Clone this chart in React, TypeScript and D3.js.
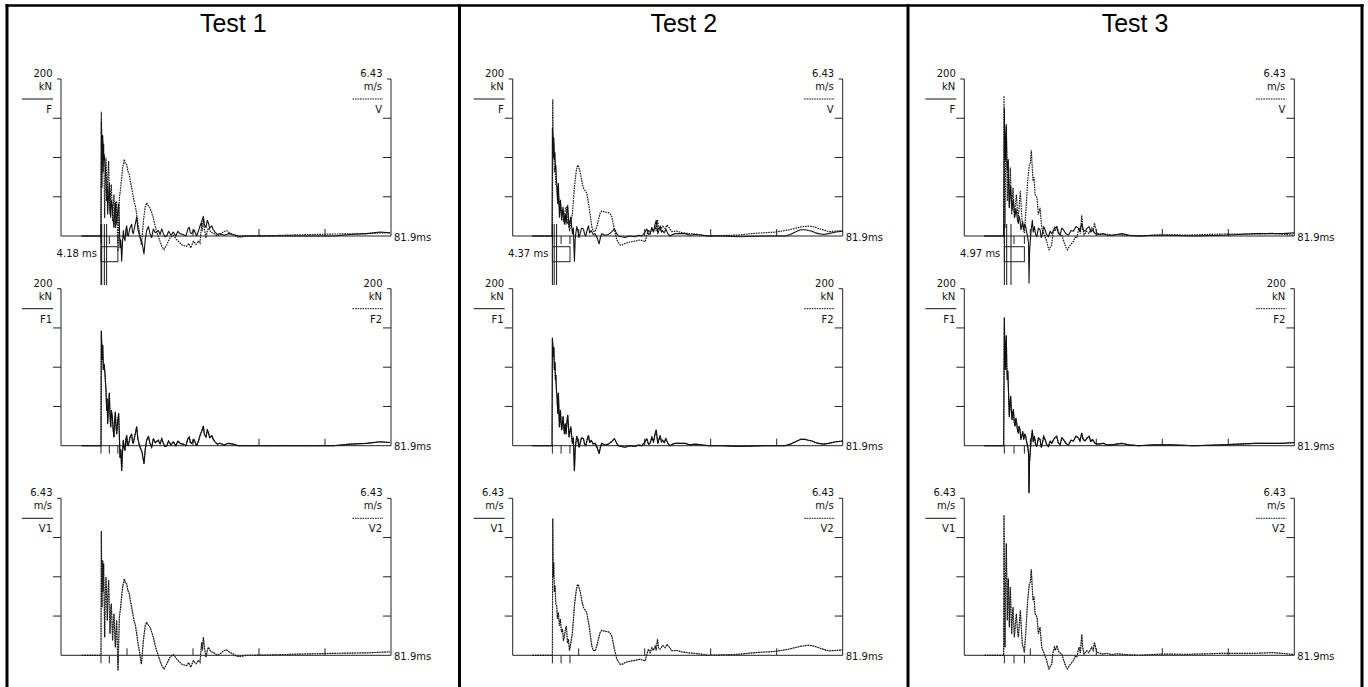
import React from 'react';
import * as d3 from 'd3';

// ---------- labels & scales ----------
const testNames = ['Test 1', 'Test 2', 'Test 3'];
const timeEndMs = 81.9;
const timeTickMs = [16.38, 32.76, 49.14, 65.52];
const forceFullKN = 200;
const velFullMS = 6.43;
const riseTimeMs = [4.18, 4.37, 4.97];
const impactMs = [9.93, 9.85, 9.94];
const midMarkMs = [11.99, 12.01, 12.34];
const cursorMs = [[10.1, 10.76, 11.33], [10.3, 10.9], [10.52, 11.59]];

// ---------- data (time ms, value) ----------
const test1Force: [number, number][] = [
  [5.13, 0], [9.93, 0], [10.01, 146], [10.2, 110], [10.35, 128], [10.51, 97], [10.7, 104], [10.92, 92],
  [11.05, 80], [11.17, 71], [11.33, 45], [11.45, 60], [11.58, 28], [11.8, 50], [12.0, 67], [12.15, 40],
  [12.33, 24], [12.5, 45], [12.74, 37], [12.95, 20], [13.15, 11], [13.3, 30], [13.49, 43], [13.65, 25],
  [13.82, 15], [14.05, 30], [14.31, 41], [14.5, 10], [14.64, -15], [14.85, -5], [15.06, -32], [15.25, -10],
  [15.47, 7], [15.65, -2], [15.88, -6], [16.1, 8], [16.3, 13], [16.5, 2], [16.71, 0], [17.1, 10],
  [17.54, 15], [17.75, 5], [17.95, 3], [18.3, 12], [18.78, 24], [19.1, 8], [19.61, -2], [20.1, -8],
  [20.6, -23], [20.9, -5], [21.26, 7], [21.7, 12], [22.09, 3], [22.5, -2], [22.92, 9], [23.4, 4],
  [24.16, 7], [24.6, 2], [25.0, 9], [25.4, 3], [25.8, -1], [26.23, 0], [26.7, 6], [27.3, 1], [27.88, 5],
  [28.5, 0], [29.0, 6], [29.54, 3], [30.3, 2], [31.0, 0], [31.5, 9], [31.85, 11], [32.1, 4], [32.43, 3],
  [33.0, 8], [33.67, 0], [34.1, 6], [34.5, 13], [34.9, 18], [35.33, 25], [35.6, 14], [35.99, 11],
  [36.3, 20], [36.57, 17], [36.9, 10], [37.4, 13], [37.8, 8], [38.22, 5], [38.8, 2], [39.46, 3],
  [40.5, 1], [41.5, 3], [42.77, 2], [44.0, 0], [46.91, 0], [51.05, 0], [59.32, 0], [67.59, 0],
  [71.73, 2], [75.87, 3], [79.18, 5], [81.66, 4],
];
const test1Velocity: [number, number][] = [
  [5.13, 0], [9.93, 0], [10.01, 5.09], [10.18, 1.97], [10.34, 3.89], [10.45, 2.6], [10.59, 3.76],
  [10.84, 0.74], [11.0, 2.4], [11.17, 3.21], [11.5, 1.43], [11.65, 2.5], [11.83, 3.07], [12.16, 0.88],
  [12.3, 1.8], [12.49, 2.11], [12.82, 0.6], [13.0, 1.3], [13.15, 1.7], [13.49, 0.33], [13.65, 1.0],
  [13.82, 1.43], [14.15, -0.63], [14.48, 1.56], [14.81, 1.97], [15.05, 2.4], [15.31, 2.8], [15.72, 3.14],
  [16.0, 2.95], [16.3, 2.93], [16.6, 2.65], [16.96, 2.52], [17.25, 2.2], [17.54, 1.97], [18.12, 1.43],
  [18.5, 1.2], [18.78, 0.88], [19.1, 0.5], [19.44, 0.19], [19.94, -0.36], [20.2, 0.1], [20.44, 0.6],
  [20.9, 1.2], [21.26, 1.36], [21.6, 1.25], [22.09, 1.15], [22.5, 0.95], [22.92, 0.74], [23.3, 0.45],
  [23.74, 0.19], [24.57, -0.22], [25.1, -0.45], [25.56, -0.56], [26.23, -0.36], [27.05, -0.08],
  [27.5, -0.02], [27.88, 0.03], [28.71, -0.15], [29.3, -0.25], [29.95, -0.36], [30.6, -0.4], [31.19, -0.42],
  [31.7, -0.3], [32.18, -0.49], [32.85, -0.22], [33.5, -0.35], [34.1, -0.2], [34.5, -0.29], [34.91, 0.53],
  [35.1, 0.2], [35.33, 0.74], [35.6, 0.3], [35.99, -0.08], [36.3, 0.2], [36.57, 0.33], [37.2, 0.15],
  [37.81, 0.12], [38.6, 0.02], [39.46, 0.05], [40.3, 0.18], [41.12, 0.22], [41.9, 0.12], [42.77, 0.05],
  [43.6, -0.04], [44.43, -0.05], [46.08, 0], [51.05, 0.01], [59.32, 0.05], [67.59, 0.08], [75.87, 0.1],
  [81.66, 0.14],
];
const test2Force: [number, number][] = [
  [4.89, 0], [9.77, 0], [9.85, 137], [10.1, 114], [10.2, 125], [10.35, 97], [10.5, 106], [10.6, 84],
  [10.72, 90], [10.85, 71], [11.01, 62], [11.18, 41], [11.34, 67], [11.59, 24], [11.84, 45], [12.0, 30],
  [12.17, 20], [12.5, 37], [12.84, 15], [13.05, 28], [13.25, 15], [13.45, 30], [13.66, 39], [13.99, 11],
  [14.2, 18], [14.41, 24], [14.82, 3], [15.05, 10], [15.32, -32], [15.5, -5], [15.65, 3], [15.9, 12],
  [16.15, 7], [16.45, -2], [16.73, 3], [17.1, 10], [17.56, 9], [17.85, 2], [18.14, 0], [18.5, 8],
  [18.8, 13], [19.1, 4], [19.46, 7], [20.0, 2], [20.45, 3], [21.0, -3], [21.45, -10], [21.8, -1],
  [22.11, 3], [22.9, 1], [23.77, 2], [24.5, 5], [25.26, 9], [25.8, 3], [26.25, 0], [27.0, -1],
  [27.91, -2], [29.0, 0], [30.39, -1], [31.2, 1], [32.05, 0], [32.7, 4], [33.29, 9], [33.7, 2],
  [34.12, 3], [34.53, 11], [34.95, 5], [35.3, 14], [35.61, 20], [36.02, 3], [36.3, 8], [36.6, 13],
  [36.9, 5], [37.18, 7], [37.6, 4], [38.01, 9], [38.5, 3], [39.09, 0], [39.7, 2], [40.33, 3], [41.5, 3],
  [42.81, 3], [44.0, 1], [45.3, 2], [48.61, 0], [52.0, 0], [56.06, -1], [62.69, 0], [67.65, 0], [68.9, 2],
  [70.14, 5], [71.4, 8], [72.62, 8], [73.4, 7], [74.28, 6], [75.1, 4], [75.94, 3], [77.2, 2], [78.42, 3],
  [80.2, 5], [81.9, 6],
];
const test2Velocity: [number, number][] = [
  [4.89, 0], [9.85, 0], [9.94, 5.6], [10.05, 3.2], [10.19, 3.8], [10.35, 2.6], [10.52, 2.85],
  [10.7, 2.1], [10.93, 2.02], [11.1, 1.5], [11.34, 1.75], [11.6, 1.2], [11.84, 1.48], [12.1, 0.95],
  [12.34, 1.07], [12.6, 0.6], [12.84, 0.79], [13.1, 1.1], [13.33, 1.2], [13.6, 0.5], [13.83, 0.66],
  [14.1, 0.2], [14.33, 0.38], [14.82, 0.93], [15.32, 2.02], [15.82, 2.71], [16.1, 2.9], [16.31, 2.87],
  [16.81, 2.57], [17.2, 2.2], [17.56, 1.96], [18.0, 1.85], [18.38, 1.75], [18.96, 1.2], [19.3, 0.8],
  [19.63, 0.38], [20.0, 0.2], [20.45, 0.18], [20.9, 0.4], [21.28, 0.66], [21.7, 0.93], [22.1, 1.02],
  [22.52, 1.0], [23.1, 0.98], [23.77, 0.96], [24.2, 0.9], [24.59, 0.79], [25.26, 0.25], [25.84, -0.16],
  [26.66, -0.37], [27.3, -0.36], [27.91, -0.3], [28.7, -0.26], [29.56, -0.23], [30.6, -0.2],
  [31.63, -0.16], [32.3, -0.2], [32.88, -0.23], [33.3, 0.05], [33.7, 0.25], [34.1, 0.1], [34.53, 0.31],
  [34.9, 0.2], [35.36, 0.38], [35.6, 0.2], [35.94, 0.66], [36.2, 0.3], [36.6, 0.25], [37.2, 0.4],
  [37.84, 0.31], [38.3, 0.45], [38.67, 0.38], [39.5, 0.18], [40.7, 0.2], [41.98, 0.14], [43.6, 0.1],
  [45.3, 0.08], [48.61, 0], [52.0, 0.02], [56.06, 0.04], [60.2, 0.11], [65.17, 0.16], [68.48, 0.25],
  [70.2, 0.32], [71.79, 0.38], [73.45, 0.41], [74.7, 0.38], [75.94, 0.31], [77.2, 0.24], [78.42, 0.18],
  [80.2, 0.2], [81.9, 0.22],
];
const test3Force: [number, number][] = [
  [4.97, 0], [9.77, 0], [9.94, 163], [10.05, 120], [10.19, 97], [10.3, 125], [10.43, 140], [10.55, 100],
  [10.68, 84], [10.8, 95], [10.93, 76], [11.05, 55], [11.18, 37], [11.35, 55], [11.51, 63], [11.68, 45],
  [11.84, 33], [12.0, 42], [12.17, 46], [12.4, 30], [12.59, 25], [12.8, 35], [13.0, 29], [13.2, 20],
  [13.42, 16], [13.6, 25], [13.83, 20], [14.05, 8], [14.24, 12], [14.5, 18], [14.74, 8], [15.0, 15],
  [15.24, 12], [15.5, 4], [15.73, -1], [15.95, -10], [16.06, -60], [16.2, -20], [16.4, -5], [16.6, 8],
  [16.89, 20], [17.1, 5], [17.39, 12], [17.7, 2], [17.97, -1], [18.4, 10], [18.8, 8], [19.1, -2],
  [19.38, 3], [19.7, 12], [20.04, 8], [20.4, 2], [20.87, -1], [21.3, 6], [21.7, 3], [22.3, 9], [22.94, 12],
  [23.3, 4], [23.77, 1], [24.2, 10], [24.59, 8], [25.2, 3], [25.84, 1], [26.5, 7], [27.08, 6], [27.7, 12],
  [28.32, 10], [28.7, 6], [29.15, 16], [29.5, 8], [29.98, 6], [30.5, 10], [30.97, 12], [31.4, 5], [31.8, 8],
  [32.46, 3], [33.29, 2], [34.5, 3], [35.5, 1], [36.6, 1], [37.8, 2], [39.09, 3], [41.0, 1], [43.23, 0],
  [47.0, 1], [51.51, 1], [57.0, 0], [63.93, 1], [68.0, 2], [72.21, 3], [76.35, 3], [79.0, 3], [81.9, 4],
];
const test3Velocity: [number, number][] = [
  [4.97, 0], [9.77, 0], [9.85, 5.74], [10.1, 0.33], [10.25, 3.2], [10.43, 4.58], [10.68, 1.43],
  [10.8, 2.5], [10.93, 3.14], [11.18, 1.15], [11.3, 2.1], [11.43, 2.8], [11.76, 0.88], [11.9, 1.5],
  [12.09, 1.97], [12.42, 0.74], [12.7, 1.3], [12.92, 1.7], [13.2, 1.0], [13.42, 0.74], [13.7, 1.4],
  [13.91, 1.84], [14.2, 1.0], [14.41, 0.47], [14.91, 0.12], [15.24, 0.88], [15.73, 2.25], [16.15, 2.93],
  [16.4, 3.0], [16.64, 3.51], [16.85, 2.8], [17.06, 2.25], [17.3, 2.4], [17.56, 1.7], [18.05, 1.56],
  [18.38, 0.88], [18.8, 1.15], [19.21, 0.33], [19.87, 0.05], [20.45, -0.22], [20.8, -0.45], [21.03, -0.56],
  [21.7, -0.36], [22.0, 0.1], [22.36, 0.33], [22.6, 0.2], [22.94, 0.4], [23.52, 0.12], [24.18, 0.05],
  [24.84, -0.29], [25.2, -0.45], [25.59, -0.56], [26.25, -0.38], [27.08, -0.22], [27.5, -0.05],
  [27.91, -0.08], [28.2, 0.15], [28.49, 0.33], [28.8, 0.1], [29.15, 0.85], [29.4, 0.3], [29.73, 0.05],
  [30.39, 0.19], [30.9, 0.1], [31.63, 0.33], [32.0, 0.2], [32.3, 0.53], [32.87, 0.12], [33.5, 0.1],
  [34.12, 0.05], [35.3, 0.08], [36.6, 0.03], [38.2, 0.06], [39.91, 0.03], [43.23, 0], [49.02, 0.05],
  [55.65, 0.04], [63.93, 0.08], [72.21, 0.08], [76.35, 0.11], [78.83, 0.08], [81.9, 0.03],
];

const forceByTest = [test1Force, test2Force, test3Force];
const velocityByTest = [test1Velocity, test2Velocity, test3Velocity];

type Side = { value: string; unit: string; name: string; full: number; kind: 'force' | 'velocity' };
const rowLeft: Side[] = [
  { value: '200', unit: 'kN', name: 'F', full: forceFullKN, kind: 'force' },
  { value: '200', unit: 'kN', name: 'F1', full: forceFullKN, kind: 'force' },
  { value: '6.43', unit: 'm/s', name: 'V1', full: velFullMS, kind: 'velocity' },
];
const rowRight: Side[] = [
  { value: '6.43', unit: 'm/s', name: 'V', full: velFullMS, kind: 'velocity' },
  { value: '200', unit: 'kN', name: 'F2', full: forceFullKN, kind: 'force' },
  { value: '6.43', unit: 'm/s', name: 'V2', full: velFullMS, kind: 'velocity' },
];

// ---------- layout ----------
const PANEL_EDGES = [7, 459.5, 908, 1362];
const AXIS_LEFT = [61, 512.7, 964.3];
const PLOT_W = 330;
const ROW_TOP = [79, 288.7, 498.3];
const PLOT_H = 157;
const FONT = "'DejaVu Sans', Verdana, sans-serif";
const DASH = '1.6,0.9';

function Chart({ ti, row }: { ti: number; row: number }) {
  const x0 = AXIS_LEFT[ti];
  const x1 = x0 + PLOT_W;
  const top = ROW_TOP[row];
  const base = top + PLOT_H;
  const x = d3.scaleLinear().domain([0, timeEndMs]).range([x0, x1]);
  const L = rowLeft[row];
  const R = rowRight[row];
  const yL = d3.scaleLinear().domain([0, L.full]).range([base, top]);
  const yR = d3.scaleLinear().domain([0, R.full]).range([base, top]);
  const quarter = [0.25, 0.5, 0.75];
  const dataOf = (s: Side) => (s.kind === 'force' ? forceByTest[ti] : velocityByTest[ti]);
  const mk = (y: d3.ScaleLinear<number, number>) =>
    d3.line<[number, number]>().x((d) => x(d[0])).y((d) => y(d[1]));
  const solidPath = mk(yL)(dataOf(L)) || '';
  const dashPath = mk(yR)(dataOf(R)) || '';
  const marks = [impactMs[ti], midMarkMs[ti], impactMs[ti] + riseTimeMs[ti]];
  return (
    <g>
      {/* left axis */}
      <line x1={x0} x2={x0} y1={top} y2={base} stroke="#222" strokeWidth={1} />
      <line x1={x0 - 4} x2={x0} y1={top} y2={top} stroke="#222" />
      {quarter.map((q) => (
        <line key={'l' + q} x1={x0 - 8} x2={x0} y1={yL(q * L.full)} y2={yL(q * L.full)} stroke="#222" />
      ))}
      {/* right axis */}
      <line x1={x1} x2={x1} y1={top} y2={base} stroke="#222" strokeWidth={1} />
      <line x1={x1 - 4} x2={x1} y1={top} y2={top} stroke="#222" />
      {quarter.map((q) => (
        <line key={'r' + q} x1={x1 - 8} x2={x1} y1={yR(q * R.full)} y2={yR(q * R.full)} stroke="#222" />
      ))}
      {/* time axis */}
      <line x1={x0} x2={x1} y1={base} y2={base} stroke="#222" />
      {timeTickMs.map((t) => (
        <line key={'t' + t} x1={x(t)} x2={x(t)} y1={base - 7} y2={base} stroke="#222" />
      ))}
      {marks.map((t, i) => (
        <line key={'m' + i} x1={x(t)} x2={x(t)} y1={base} y2={base + 8} stroke="#222" />
      ))}
      <text x={x1 + 3} y={base + 4.5} fontFamily={FONT} fontSize={10} fill="#111">
        {timeEndMs}ms
      </text>
      {/* side labels */}
      <g fontFamily={FONT} fontSize={10} fill="#111" textAnchor="end">
        <text x={x0 - 8.5} y={top - 2}>{L.value}</text>
        <text x={x0 - 9} y={top + 11}>{L.unit}</text>
        <text x={x0 - 9} y={top + 34}>{L.name}</text>
        <text x={x1 - 8.5} y={top - 2}>{R.value}</text>
        <text x={x1 - 9} y={top + 11}>{R.unit}</text>
        <text x={x1 - 9} y={top + 34}>{R.name}</text>
      </g>
      <line x1={x0 - 39} x2={x0 - 8} y1={top + 20} y2={top + 20} stroke="#111" />
      <line x1={x1 - 38.5} x2={x1 - 8} y1={top + 20} y2={top + 20} stroke="#111" strokeDasharray={DASH} />
      {/* traces */}
      <path
        d={solidPath}
        fill="none"
        stroke={row === 2 ? '#777' : '#111'}
        strokeWidth={row === 2 ? 0.6 : 1.1}
        strokeLinejoin="round"
      />
      <path d={dashPath} fill="none" stroke="#111" strokeWidth={1.15} strokeDasharray={DASH} />
      {row === 0 && (
        <g>
          {[impactMs[ti], ...cursorMs[ti]].map((t, i) => (
            <line key={'c' + i} x1={x(t)} x2={x(t)} y1={base - 12} y2={base + 49} stroke="#111" />
          ))}
          <rect
            x={x(impactMs[ti])}
            y={base + 10.7}
            width={x(impactMs[ti] + riseTimeMs[ti]) - x(impactMs[ti])}
            height={15}
            fill="none"
            stroke="#222"
          />
          <text x={x(impactMs[ti]) - 4} y={base + 21} fontFamily={FONT} fontSize={10} fill="#111" textAnchor="end">
            {riseTimeMs[ti].toFixed(2)} ms
          </text>
        </g>
      )}
    </g>
  );
}

export default function App() {
  return (
    <svg width={1368} height={687} style={{ position: 'absolute', left: 0, top: 0, background: '#fff' }}>
      <rect x={0} y={0} width={1368} height={687} fill="#fff" />
      {/* frame */}
      <line x1={PANEL_EDGES[0] - 1.5} x2={PANEL_EDGES[3] + 1.5} y1={5.5} y2={5.5} stroke="#000" strokeWidth={2.6} />
      {PANEL_EDGES.map((px, i) => (
        <line key={'e' + i} x1={px} x2={px} y1={4.2} y2={687} stroke="#000" strokeWidth={3} />
      ))}
      {testNames.map((name, ti) => (
        <g key={name}>
          <text
            x={(PANEL_EDGES[ti] + PANEL_EDGES[ti + 1]) / 2}
            y={32}
            textAnchor="middle"
            fontFamily="'Liberation Sans', Arial, sans-serif"
            fontSize={25}
            fill="#000"
          >
            {name}
          </text>
          {[0, 1, 2].map((row) => (
            <Chart key={row} ti={ti} row={row} />
          ))}
        </g>
      ))}
    </svg>
  );
}
